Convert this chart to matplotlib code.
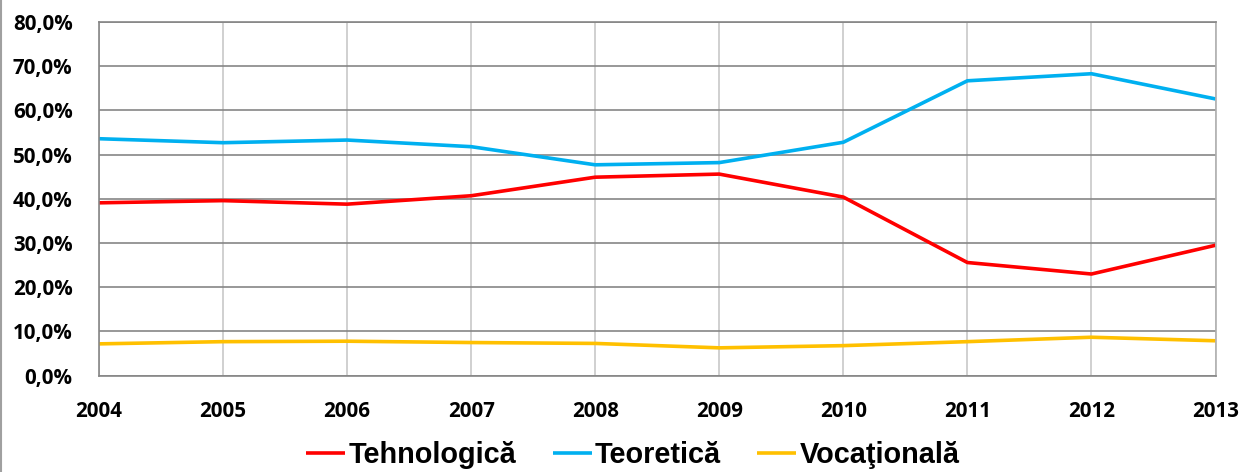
import matplotlib
matplotlib.use("Agg")
import matplotlib.pyplot as plt
from matplotlib.lines import Line2D
from matplotlib.ticker import FuncFormatter

years = [2004, 2005, 2006, 2007, 2008, 2009, 2010, 2011, 2012, 2013]
tehnologica = [39.1, 39.6, 38.8, 40.7, 44.9, 45.6, 40.4, 25.6, 23.0, 29.5]
teoretica = [53.6, 52.7, 53.3, 51.8, 47.7, 48.2, 52.8, 66.7, 68.3, 62.6]
vocationala = [7.2, 7.7, 7.8, 7.5, 7.3, 6.3, 6.8, 7.7, 8.7, 7.9]

plt.rcParams["font.family"] = ["Open Sans", "DejaVu Sans"]
plt.rcParams["font.weight"] = "bold"

fig = plt.figure(figsize=(12.47, 4.72), dpi=100)
ax = fig.add_axes([99 / 1247, 1 - 375.7 / 472, (1215.5 - 99) / 1247, (375.7 - 22) / 472])

ax.plot(years, tehnologica, color="#FF0000", lw=2.6, label="Tehnologică", solid_capstyle="butt")
ax.plot(years, teoretica, color="#00B0F0", lw=2.6, label="Teoretică", solid_capstyle="butt")
ax.plot(years, vocationala, color="#FFC000", lw=2.6, label="Vocaţională", solid_capstyle="butt")

ax.set_xlim(years[0], years[-1])
ax.set_ylim(0, 80)
ax.set_xticks(years)
ax.set_yticks(range(0, 81, 10))
ax.yaxis.set_major_formatter(FuncFormatter(lambda v, p: f"{v:.1f}%".replace(".", ",")))

ax.grid(axis="y", color="#868686", lw=1.2)
ax.grid(axis="x", color="#C8C8C8", lw=1.2)
ax.set_axisbelow(True)
for side in ["top", "left", "bottom"]:
    ax.spines[side].set_color("#868686")
    ax.spines[side].set_linewidth(1.2)
ax.spines["right"].set_color("#B0B0B0")
ax.spines["right"].set_linewidth(1.2)
ax.tick_params(length=0, labelsize=14.8)
ax.tick_params(axis="y", pad=19)
ax.tick_params(axis="x", pad=18)

leg = fig.legend(loc="center", bbox_to_anchor=(633 / 1247, 1 - 455 / 472), ncol=3,
                 frameon=False, handlelength=1.35, handletextpad=0.12, columnspacing=1.25,
                 prop={"family": ["Liberation Sans", "DejaVu Sans"], "weight": "bold", "size": 20.8})

fig.add_artist(Line2D([0.5 / 1247, 0.5 / 1247], [0, 1], color="#A0A0A0", lw=1.5,
                      transform=fig.transFigure))

fig.savefig("out.png", dpi=100)
